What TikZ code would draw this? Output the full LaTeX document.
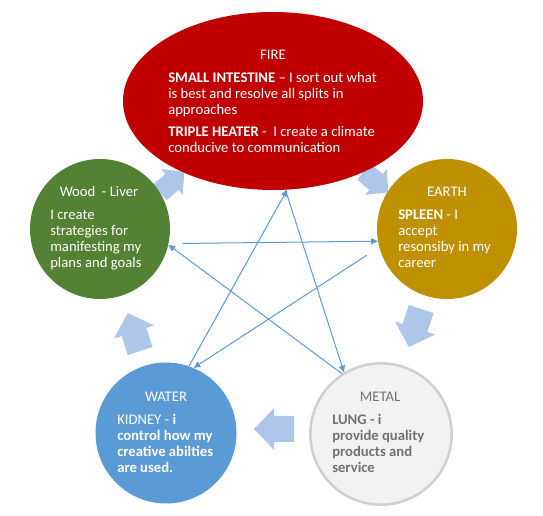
\documentclass[tikz,border=0pt]{standalone}
\usepackage{fontspec}
\setmainfont{Carlito}
\usetikzlibrary{shapes.geometric,arrows.meta}
\definecolor{firered}{HTML}{C00000}
\definecolor{woodgreen}{HTML}{548235}
\definecolor{earthgold}{HTML}{BF9000}
\definecolor{waterblue}{HTML}{5B9BD5}
\definecolor{metalfill}{HTML}{F2F2F2}
\definecolor{metaledge}{HTML}{D0D0D0}
\definecolor{metaltext}{HTML}{767171}
\definecolor{linkblue}{HTML}{5B9BD5}
\definecolor{cyclearrow}{RGB}{174,198,232}
\begin{document}
\begin{tikzpicture}[x=0.75pt,y=-0.75pt,
  element/.style={circle,inner sep=0pt,minimum size=105pt,draw=none},
  txt/.style={font=\fontsize{11pt}{12pt}\selectfont,inner sep=0pt,align=left,text=white},
  conn/.style={draw=linkblue,line width=0.75pt,-{Triangle[length=5pt,width=4.5pt]}},
  barrow/.style={fill=cyclearrow}]
\useasboundingbox (0,0) rectangle (543,516);
% cycle block arrows (behind)
\foreach \cx/\cy/\ang/\sc in {172/182/40/0.8, 376/182/-40/0.8, 415/328/252/1, 274/429/180/1, 134/332/108/1}{
  \fill[barrow,shift={(\cx,\cy)},rotate=\ang,scale=\sc] (-20,-13) -- (0,-13) -- (0,-21) -- (20,0) -- (0,21) -- (0,13) -- (-20,13) -- cycle;
}
% elements
\node[ellipse,inner sep=0pt,minimum width=225pt,minimum height=133.5pt,fill=firered] (fire) at (273,101) {};
\node[element,fill=woodgreen] (wood) at (100,229) {};
\node[element,fill=earthgold] (earth) at (447,229) {};
\node[element,fill=waterblue,minimum size=105.75pt] (water) at (166,433) {};
\node[element,fill=metalfill,draw=metaledge,line width=1.9pt,minimum size=106pt] (metal) at (381,434) {};
% texts (base anchor = baseline of last line)
\node[txt,anchor=base] (fireH) at (273,60) {FIRE};
\node[txt,anchor=base west] (fireB) at (168,153) {\textbf{SMALL INTESTINE} – I sort out what\\is best and resolve all splits in\\approaches\\[4.5pt]\textbf{TRIPLE HEATER} -\ \ I create a climate\\conducive to communication};
\node[txt,anchor=base] (woodH) at (99,197) {Wood\ \ - Liver};
\node[txt,anchor=base west] (woodB) at (50,268) {I create\\strategies for\\manifesting my\\plans and goals};
\node[txt,anchor=base] (earthH) at (447,197) {EARTH};
\node[txt,anchor=base west] (earthB) at (398,268) {\textbf{SPLEEN} - I\\accept\\resonsiby in my\\career};
\node[txt,anchor=base] (waterH) at (166,402) {WATER};
\node[txt,anchor=base west] (waterB) at (117,473) {KIDNEY - \textbf{i}\\\textbf{control how my}\\\textbf{creative abilties}\\\textbf{are used.}};
\node[txt,anchor=base,text=metaltext] (metalH) at (380,402) {METAL};
\node[txt,anchor=base west,text=metaltext] (metalB) at (332,473) {\textbf{LUNG - i}\\\textbf{provide quality}\\\textbf{products and}\\\textbf{service}};
% control connectors (star)
\draw[conn,shorten <=10.5pt] (wood.-12) -- (earth.190);
\draw[conn,shorten <=11pt] (earth.195) -- (water.67);
\draw[conn] (water.71) -- (fire.-81);
\draw[conn] (fire.-82) -- (metal.121);
\draw[conn] (metal.123) -- (wood.-13);
\end{tikzpicture}
\end{document}
